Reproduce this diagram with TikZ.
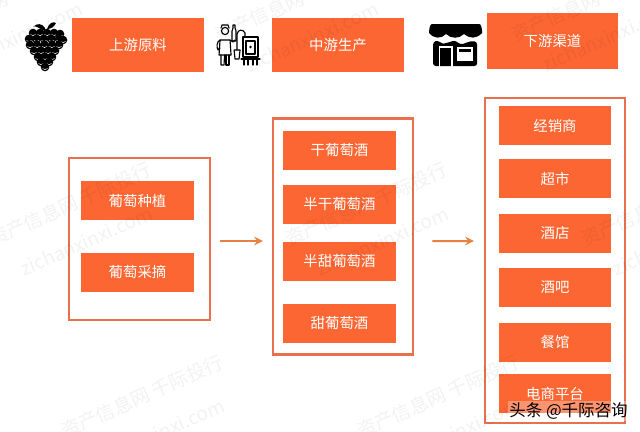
\documentclass[tikz,border=0pt]{standalone}
\usepackage{fontspec}
\setmainfont{Noto Sans CJK SC}
\usepackage{tikz}
\usetikzlibrary{arrows}
\definecolor{boxorange}{HTML}{FC6633}
\definecolor{frameorange}{HTML}{E8704D}
\definecolor{arroworange}{HTML}{E8803F}
\tikzstyle{stagebox} = [rectangle, minimum width=2.64cm, minimum height=1.08cm, inner sep=0pt, text=white, fill=boxorange, font=\fontsize{8.2}{10}\selectfont]
\tikzstyle{itembox} = [rectangle, minimum width=2.26cm, minimum height=0.78cm, inner sep=0pt, text=white, fill=boxorange, font=\fontsize{8.2}{10}\selectfont]
\tikzstyle{groupbox} = [rectangle, minimum width=2.82cm, inner sep=0pt, draw=frameorange, line width=0.05cm]
\tikzstyle{flowarrow} = [line width=0.04cm,->,>=stealth,draw=arroworange]
\tikzstyle{watermark} = [rotate=24, align=center, text=black, text opacity=0.05, font=\fontsize{10.8}{23}\selectfont]
\tikzstyle{iconline} = [line width=0.65pt, line cap=round, line join=round]
\begin{document}
\begin{tikzpicture}
    \useasboundingbox (0,0) rectangle (12.8,-8.64);

    \node (upstream) [stagebox, xshift=2.76cm, yshift=-0.90cm] {上游原料};
    \node (midstream) [stagebox, xshift=6.76cm, yshift=-0.90cm] {中游生产};
    \node (downstream) [stagebox, minimum width=2.62cm, minimum height=1.12cm, xshift=11.05cm, yshift=-0.82cm] {下游渠道};

    \node (upstream_group) [groupbox, minimum height=3.24cm, xshift=2.79cm, yshift=-4.78cm] {};
    \node (midstream_group) [groupbox, minimum width=2.80cm, minimum height=4.72cm, xshift=6.86cm, yshift=-4.73cm] {};
    \node (downstream_group) [groupbox, minimum width=2.80cm, minimum height=6.50cm, xshift=11.10cm, yshift=-5.21cm] {};

    \node (planting) [itembox, xshift=2.75cm, yshift=-4.01cm] {葡萄种植};
    \node (picking) [itembox, xshift=2.75cm, yshift=-5.44cm] {葡萄采摘};

    \node (dry_wine) [itembox, xshift=6.79cm, yshift=-3.01cm] {干葡萄酒};
    \node (semidry_wine) [itembox, xshift=6.79cm, yshift=-4.09cm] {半干葡萄酒};
    \node (semisweet_wine) [itembox, xshift=6.79cm, yshift=-5.23cm] {半甜葡萄酒};
    \node (sweet_wine) [itembox, xshift=6.79cm, yshift=-6.47cm] {甜葡萄酒};

    \node (dealer) [itembox, minimum width=2.24cm, xshift=11.10cm, yshift=-2.51cm] {经销商};
    \node (supermarket) [itembox, minimum width=2.24cm, xshift=11.10cm, yshift=-3.57cm] {超市};
    \node (hotel) [itembox, minimum width=2.24cm, xshift=11.10cm, yshift=-4.66cm] {酒店};
    \node (bar) [itembox, minimum width=2.24cm, xshift=11.10cm, yshift=-5.75cm] {酒吧};
    \node (restaurant) [itembox, minimum width=2.24cm, xshift=11.10cm, yshift=-6.84cm] {餐馆};
    \node (online_shop) [itembox, minimum width=2.24cm, xshift=11.10cm, yshift=-7.87cm] {电商平台};

    \draw[flowarrow, shorten <=0.18cm, shorten >=0.18cm] ([yshift=-0.04cm]upstream_group.east) -- ([yshift=-0.09cm]midstream_group.west);
    \draw[flowarrow, shorten <=0.36cm, shorten >=0.20cm] ([yshift=-0.09cm]midstream_group.east) -- ([yshift=0.39cm]downstream_group.west);

    % grapes
    \begin{scope}[x=0.02cm,y=-0.02cm]
        \fill[black] (45,31) .. controls (36,27) and (35,25) .. (33,27) .. controls (37,23) and (42,23) .. (45,28) -- cycle;
        \fill[black] (47,29) .. controls (49,23) and (53,21) .. (56,23) .. controls (54,27) and (51,29) .. (47,29) -- cycle;
        \foreach \px/\py in {33/33,40/33,47/33,54/33,60/34,29/39,36.5/39,44/39,51.5/39,59/39,63/40,30/45,37/45,44.5/45,52/45,59/45,34/51,41/51,48/51,55/51,38/57,45/57,52/57,41/62,49/62,45/67}{
            \fill[black] (\px,\py) circle (4.3);
            \draw[white, line width=0.3pt] (\px-2.5,\py+1.5) -- (\px,\py+2.6) -- (\px+2.5,\py+1.5);
        }
    \end{scope}

    % brewer and tank
    \begin{scope}[x=0.02cm,y=-0.02cm, iconline]
        \draw (225,31) circle (3.6);
        \draw (221,28) -- (222,25) -- (228,25) -- (229,28);
        \draw (220,40) -- (230,40) -- (231,55) -- (219,55) -- cycle;
        \draw (220,40) .. controls (217,41) and (216,47) .. (218,50) -- (220,48);
        \draw (230,40) -- (233,42) -- (235,40);
        \draw (221,55) -- (221,65) -- (224,65) -- (224.5,55);
        \draw (226,55) -- (226,65) -- (229,65) -- (229,55);
        \draw (232,41) -- (232,31) -- (233,28) -- (233,25) -- (235,25) -- (235,28) -- (236,31) -- (236,41) -- cycle;
        \draw (234,50) -- (240,50) -- (239,59) -- (235,59) -- cycle;
        \draw (237,50) -- (237,34) .. controls (238,29) and (243,29) .. (245,33) -- (245,37);
        \draw (243,37) rectangle (258,57);
        \draw (246,41) rectangle (255,54);
        \fill (250.5,47) circle (1.4);
        \draw (241,59) -- (260,59);
        \draw (244,59) -- (244,65) (248,59) -- (248,65) (253,59) -- (253,65) (257,59) -- (257,65);
    \end{scope}

    % shop
    \begin{scope}[x=0.02cm,y=-0.02cm]
        \fill[black, rounded corners=1.5] (433,42) .. controls (438,40) and (442,44) .. (446,43) .. controls (450,42) and (454,40) .. (458,43) .. controls (463,45) and (470,40) .. (477,42) -- (477,66) -- (433,66) -- cycle;
        \fill[white] (429,35) rectangle (482,38);
        \fill[black] (432,24) -- (479,24) .. controls (481,24) and (482,28) .. (482,33) .. controls (476,39) and (470,39) .. (464,34) .. controls (459,39) and (451,39) .. (446,34) .. controls (441,39) and (434,39) .. (429,33) .. controls (429,28) and (430,24) .. (432,24) -- cycle;
        \draw[white, line width=0.9pt] (429,35) .. controls (434,41) and (441,41) .. (446,36) .. controls (451,41) and (459,41) .. (464,36) .. controls (470,41) and (476,41) .. (482,35);
        \draw[white, line width=0.9pt] (439.5,67) -- (439.5,47) -- (452,47) -- (452,67);
        \draw[white, line width=0.9pt] (458,48) rectangle (472,60);
        \fill[white] (458,52) rectangle (472,60);
    \end{scope}

    % faint marks over the picture
    \foreach \wx/\wy [count=\wi] in {8/18,304/18,600/18,78/222,374/222,670/222,150/414,446/414}{
        \node (mark_\wi) [watermark] at (\wx*0.02,-\wy*0.02) {资产信息网 千际投行\\zichanxinxi.com};
    }

    \node (source_label) [inner sep=1pt, fill=white, fill opacity=0.3, text opacity=1, text=black, font=\fontsize{9.4}{11}\selectfont, xshift=11.37cm, yshift=-8.22cm] {头条 @千际咨询};
\end{tikzpicture}
\end{document}
